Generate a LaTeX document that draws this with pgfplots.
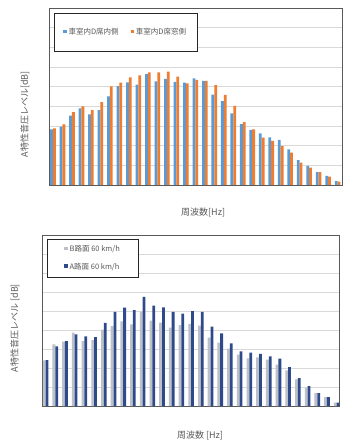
\documentclass[border=0pt]{standalone}
\usepackage{pgfplots}
\pgfplotsset{compat=1.18}
\usepackage{pgfplotstable}
\usepackage{fontspec}
\setmainfont{Noto Sans CJK JP}

\definecolor{seatin}{HTML}{5B9BD5}
\definecolor{seatwin}{HTML}{ED7D31}
\definecolor{roadB}{HTML}{BCC0C8}
\definecolor{roadA}{HTML}{2F4A8A}
\definecolor{gridgray}{HTML}{D9D9D9}
\definecolor{framegray}{HTML}{595959}
\definecolor{labelgray}{HTML}{595959}

% 1/3-octave band levels, cabin seat D (inner side / window side)
\pgfplotstableread{
band inner window
1  28.3 28.8
2  29.7 30.8
3  35.3 37.1
4  39.0 40.0
5  35.9 38.1
6  38.1 42.2
7  45.1 50.2
8  50.3 52.0
9  52.2 54.7
10 51.0 55.8
11 56.4 57.3
12 52.7 57.3
13 54.0 57.6
14 52.4 55.1
15 52.0 51.7
16 54.2 53.4
17 53.0 53.0
18 45.9 50.8
19 42.7 45.8
20 36.4 40.2
21 31.0 32.0
22 28.0 28.3
23 26.3 24.1
24 24.2 22.5
25 22.9 19.8
26 18.1 16.4
27 12.7 11.4
28  9.7  8.8
29  6.6  6.6
30  4.7  4.2
31  2.0  1.7
}\seatdata

% 1/3-octave band levels, road surface B / road surface A at 60 km/h
\pgfplotstableread{
band B A
1  24.0 24.2
2  32.5 31.4
3  33.9 34.2
4  38.6 37.7
5  34.2 36.7
6  34.7 36.3
7  40.2 43.7
8  42.1 49.5
9  44.6 51.8
10 43.0 50.4
11 49.5 57.4
12 44.9 52.8
13 43.9 51.9
14 41.2 49.6
15 42.6 48.6
16 43.2 50.0
17 42.3 49.5
18 36.0 41.8
19 33.3 38.2
20 30.2 33.0
21 27.0 28.8
22 25.1 28.1
23 25.6 27.4
24 24.4 26.1
25 21.8 24.9
26 18.8 20.5
27 14.0 14.7
28  9.6 10.4
29  6.8  6.8
30  4.7  4.7
31  1.8  1.8
}\roaddata

\pgfplotsset{
  spectrum/.style={
    scale only axis,
    ybar=0pt, bar width=2.8pt,
    ymin=0, ymax=90, ytick={0,10,...,90}, yticklabels={},
    xtick=\empty, minor xtick={0.5,1.5,...,31.5},
    xminorgrids, ymajorgrids,
    grid style={draw=gridgray, line width=0.5pt},
    minor grid style={draw=gridgray, line width=0.5pt},
    major tick length=0pt, minor tick length=0pt,
    axis line style={draw=framegray, line width=0.8pt},
    label style={font=\fontsize{9}{10}\selectfont, text=labelgray},
    legend cell align=left,
    legend image code/.code={\fill[##1, draw=none] (0pt,-0.5pt) rectangle (3.2pt,2.7pt);},
    every axis plot/.append style={draw=none},
  }
}

\begin{document}
\begin{tikzpicture}
\path[use as bounding box] (0pt,0pt) rectangle (354pt,448pt);

% cabin seat D comparison
\begin{axis}[spectrum,
  at={(49pt,263pt)}, anchor=south west, width=293pt, height=177pt,
  xmin=0.58, xmax=31.46,
  xlabel={周波数[Hz]}, ylabel={A特性音圧レベル[dB]},
  xlabel style={at={(axis description cs:0.526,-0.153)}, anchor=center},
  ylabel style={at={(axis description cs:-0.082,0.40)}, anchor=center},
  legend columns=2,
  legend style={at={(axis description cs:0.017,0.972)}, anchor=north west,
    font=\fontsize{7.5}{9}\selectfont, text=labelgray,
    draw=black!85, line width=0.8pt, inner xsep=9pt, inner ysep=13pt,
    /tikz/every even column/.append style={column sep=10pt}},
]
\addplot[fill=seatin] table[x=band, y=inner] {\seatdata};
\addplot[fill=seatwin] table[x=band, y=window] {\seatdata};
\legend{車室内D席内側, 車室内D席窓側}
\end{axis}

% road surface comparison
\begin{axis}[spectrum,
  at={(42pt,42pt)}, anchor=south west, width=297pt, height=171pt,
  xmin=0.63, xmax=31.24,
  xlabel={周波数 [Hz]}, ylabel={A特性音圧レベル [dB]},
  xlabel style={at={(axis description cs:0.532,-0.175)}, anchor=center},
  ylabel style={at={(axis description cs:-0.091,0.456)}, anchor=center},
  legend style={at={(axis description cs:0.017,0.977)}, anchor=north west,
    font=\fontsize{7.5}{9}\selectfont, text=labelgray,
    draw=black!85, line width=0.8pt, inner xsep=17pt, inner ysep=4pt,
    row sep=6pt},
]
\addplot[fill=roadB] table[x=band, y=B] {\roaddata};
\addplot[fill=roadA] table[x=band, y=A] {\roaddata};
\legend{B路面 60 km/h, A路面 60 km/h}
\end{axis}
\end{tikzpicture}
\end{document}
